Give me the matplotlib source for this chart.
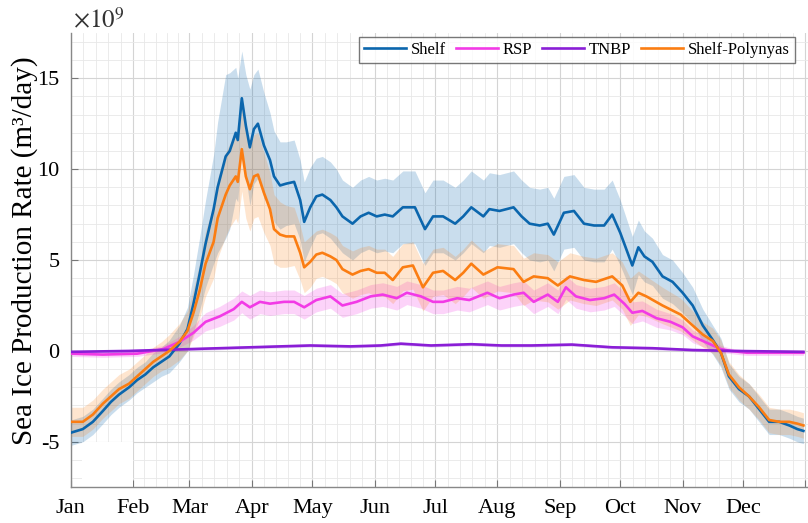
import numpy as np
import matplotlib
matplotlib.use("Agg")
import matplotlib.pyplot as plt
from matplotlib.patches import Rectangle

plt.rcParams['font.family'] = ['Liberation Serif', 'DejaVu Serif']
plt.rcParams['mathtext.fontset'] = 'stix'

# day-of-year samples, values in 1e9 m^3/day
shelf_day = [1, 4, 7, 12, 17, 21, 25, 30, 34, 38,
             42, 46, 50, 55, 59, 62, 65, 68, 72, 74,
             78, 80, 83, 84, 86, 88, 90, 92, 94, 97,
             100, 102, 105, 108, 112, 115, 117, 120, 123, 126,
             130, 133, 136, 141, 145, 149, 153, 157, 161, 166,
             172, 177, 181, 186, 192, 196, 200, 206, 209, 214,
             221, 225, 229, 234, 238, 241, 246, 251, 256, 261,
             266, 270, 274, 277, 280, 283, 286, 290, 295, 300,
             305, 310, 315, 320, 324, 328, 333, 338, 343, 348,
             353, 358, 362, 365]
shelf_mean = [-4.5, -4.4, -4.3, -3.9, -3.3, -2.8, -2.4, -2.0, -1.6, -1.3,
              -0.9, -0.6, -0.3, 0.4, 1.2, 2.6, 4.2, 5.9, 7.8, 9.0,
              10.7, 11.0, 12.0, 11.6, 13.9, 12.4, 11.2, 12.2, 12.5, 11.3,
              10.5, 9.6, 9.1, 9.2, 9.3, 8.3, 7.1, 7.9, 8.5, 8.6,
              8.3, 7.9, 7.4, 7.0, 7.4, 7.6, 7.4, 7.5, 7.4, 7.9,
              7.9, 6.7, 7.4, 7.4, 7.0, 7.4, 7.9, 7.4, 7.8, 7.7,
              7.9, 7.4, 7.0, 6.9, 7.0, 6.4, 7.6, 7.7, 7.0, 6.9,
              6.9, 7.5, 6.5, 5.6, 4.7, 5.7, 5.2, 4.9, 4.1, 3.8,
              3.2, 2.5, 1.4, 0.6, -0.1, -1.4, -2.1, -2.5, -3.2, -3.9,
              -3.9, -4.1, -4.3, -4.4]
shelf_std = [0.7, 0.7, 0.7, 0.7, 0.7, 0.7, 0.7, 0.7, 0.7, 0.7,
             0.8, 0.8, 0.9, 1.0, 1.2, 1.6, 2.0, 2.4, 3.0, 3.6,
             4.5, 4.3, 3.6, 3.4, 2.6, 2.8, 3.2, 3.0, 3.0, 2.9,
             2.6, 2.5, 2.4, 2.3, 2.3, 2.2, 2.2, 2.2, 2.1, 2.1,
             2.1, 2.1, 2.0, 2.0, 2.0, 2.0, 2.0, 2.0, 2.0, 2.0,
             2.0, 2.0, 2.0, 2.0, 2.0, 2.0, 2.0, 2.0, 2.0, 2.0,
             2.0, 2.0, 2.0, 2.0, 2.0, 2.0, 2.0, 2.0, 2.0, 2.0,
             2.0, 1.9, 1.8, 1.7, 1.6, 1.5, 1.4, 1.3, 1.2, 1.2,
             1.1, 1.0, 0.9, 0.8, 0.8, 0.7, 0.7, 0.7, 0.7, 0.7,
             0.7, 0.7, 0.7, 0.7]

poly_day = [1, 4, 7, 12, 17, 21, 25, 30, 34, 38,
            42, 46, 50, 55, 59, 62, 65, 68, 72, 74,
            78, 80, 83, 84, 86, 88, 90, 92, 94, 97,
            100, 102, 105, 108, 112, 115, 117, 120, 123, 126,
            130, 133, 136, 141, 145, 149, 153, 157, 161, 166,
            171, 176, 181, 186, 192, 196, 200, 206, 213, 221,
            226, 231, 238, 243, 249, 256, 262, 270, 275, 279,
            283, 287, 295, 304, 310, 315, 320, 324, 328, 333,
            338, 343, 348, 353, 358, 362, 365]
poly_mean = [-3.9, -3.9, -3.9, -3.5, -2.9, -2.5, -2.1, -1.8, -1.4, -1.0,
             -0.6, -0.3, 0.0, 0.5, 1.1, 2.1, 3.3, 4.8, 6.0, 7.3,
             8.6, 9.1, 9.6, 9.3, 11.1, 9.6, 8.9, 9.6, 9.7, 8.7,
             7.8, 6.7, 6.4, 6.3, 6.3, 5.4, 4.6, 4.9, 5.3, 5.4,
             5.2, 5.0, 4.5, 4.2, 4.4, 4.5, 4.3, 4.3, 3.9, 4.6,
             4.7, 3.5, 4.3, 4.4, 3.9, 4.3, 4.8, 4.2, 4.6, 4.5,
             3.8, 4.1, 4.0, 3.6, 4.1, 3.9, 3.8, 4.1, 3.6, 2.7,
             3.2, 3.0, 2.5, 2.0, 1.4, 0.9, 0.55, -0.1, -1.3, -2.0,
             -2.5, -3.1, -3.8, -3.9, -3.9, -4.0, -4.1]
poly_std = [0.8, 0.8, 0.8, 0.8, 0.8, 0.8, 0.8, 0.8, 0.8, 0.8,
            0.8, 0.8, 0.9, 1.0, 1.1, 1.3, 1.5, 1.8, 2.0, 2.2,
            2.3, 2.3, 2.3, 2.3, 2.3, 2.3, 2.3, 2.3, 2.3, 2.2,
            2.0, 1.9, 1.8, 1.7, 1.6, 1.5, 1.4, 1.4, 1.3, 1.3,
            1.3, 1.3, 1.3, 1.3, 1.3, 1.3, 1.3, 1.3, 1.3, 1.3,
            1.3, 1.3, 1.3, 1.3, 1.3, 1.3, 1.3, 1.3, 1.3, 1.3,
            1.3, 1.3, 1.3, 1.3, 1.3, 1.3, 1.3, 1.3, 1.3, 1.3,
            1.2, 1.1, 1.0, 0.9, 0.8, 0.7, 0.7, 0.7, 0.7, 0.7,
            0.7, 0.7, 0.7, 0.7, 0.7, 0.7, 0.7]

rsp_day = [1, 17, 34, 47, 55, 62, 68, 75, 82, 86,
           90, 95, 100, 107, 112, 117, 123, 130, 136, 143,
           150, 156, 163, 168, 175, 181, 186, 193, 199, 208,
           214, 221, 226, 231, 238, 243, 247, 252, 259, 266,
           271, 276, 280, 285, 292, 299, 305, 310, 317, 324,
           329, 337, 345, 365]
rsp_mean = [-0.15, -0.2, -0.15, 0.1, 0.5, 1.0, 1.6, 1.9, 2.3, 2.7,
            2.4, 2.7, 2.6, 2.7, 2.7, 2.4, 2.8, 3.0, 2.5, 2.7,
            3.0, 3.1, 2.9, 3.2, 3.0, 2.7, 2.7, 2.9, 2.8, 3.2,
            2.9, 3.1, 3.2, 2.7, 3.1, 2.7, 3.5, 3.0, 2.8, 2.9,
            3.1, 2.6, 2.1, 2.2, 1.8, 1.6, 1.3, 0.8, 0.45, 0.1,
            0.0, -0.1, -0.1, -0.1]
rsp_std = [0.15, 0.15, 0.15, 0.2, 0.3, 0.4, 0.5, 0.55, 0.6, 0.6,
           0.65, 0.65, 0.65, 0.65, 0.65, 0.65, 0.65, 0.65, 0.65, 0.65,
           0.65, 0.65, 0.65, 0.65, 0.65, 0.65, 0.65, 0.65, 0.65, 0.65,
           0.65, 0.65, 0.65, 0.65, 0.65, 0.65, 0.65, 0.65, 0.65, 0.65,
           0.65, 0.65, 0.6, 0.55, 0.5, 0.45, 0.4, 0.35, 0.3, 0.2,
           0.15, 0.15, 0.15, 0.15]

tnbp_day = [1, 30, 60, 90, 120, 140, 155, 165, 180, 200, 215, 230, 250, 270, 290, 310, 330, 365]
tnbp_mean = [-0.05, 0.0, 0.1, 0.2, 0.3, 0.25, 0.3, 0.4, 0.3, 0.37, 0.3, 0.3, 0.35, 0.2, 0.15, 0.05, 0.0, -0.05]
tnbp_std = 0.08

month_start = [1, 32, 60, 91, 121, 152, 182, 213, 244, 274, 305, 335, 366]
month_names = ['Jan', 'Feb', 'Mar', 'Apr', 'May', 'Jun', 'Jul', 'Aug', 'Sep', 'Oct', 'Nov', 'Dec', '']

c_shelf = '#0b66ad'
c_rsp = '#f23ae6'
c_tnbp = '#8a1ed6'
c_poly = '#fb7d12'

fig = plt.figure(figsize=(8.08, 5.23), dpi=100)
ax = fig.add_axes([0.0875, 0.0683, 0.9143, 0.869])

series = [
    (shelf_day, shelf_mean, shelf_std, c_shelf, 'Shelf', 0.22),
    (rsp_day, rsp_mean, rsp_std, c_rsp, 'RSP', 0.22),
    (tnbp_day, tnbp_mean, tnbp_std, c_tnbp, 'TNBP', 0.25),
    (poly_day, poly_mean, poly_std, c_poly, 'Shelf-Polynyas', 0.2),
]
for day, mean, std, col, name, a in series:
    day = np.array(day)
    mean = np.array(mean)
    std = np.broadcast_to(np.array(std, dtype=float), mean.shape)
    ax.fill_between(day, mean - std, mean + std, color=col, alpha=a, lw=0, zorder=2)
for day, mean, std, col, name, a in series:
    ax.plot(day, mean, color=col, lw=1.9, label=name, zorder=3)

# white box covering part of the lower left corner
ax.add_patch(Rectangle((6.7, -7.5), 25.3, 2.47, facecolor='white', edgecolor='none', zorder=1.5))

ax.set_xlim(1, 368)
ax.set_ylim(-7.5, 17.5)

ax.set_xticks(month_start)
ax.set_xticklabels(month_names, fontsize=16)
minor = []
for a0, a1 in zip(month_start[:-1], month_start[1:]):
    minor.extend(np.linspace(a0, a1, 6)[1:-1])
ax.set_xticks(minor, minor=True)
ax.set_yticks([-5, 0, 5, 10, 15])
ax.set_yticklabels(['-5', '0', '5', '10', '15'], fontsize=16)
ax.set_yticks(np.arange(-7, 18, 1), minor=True)

ax.set_axisbelow(True)
ax.grid(True, which='major', color='#d4d4d4', lw=0.8)
ax.grid(True, which='minor', color='#e8e8e8', lw=0.6)
ax.tick_params(which='major', direction='in', length=5, color='#777777', pad=8)
ax.tick_params(which='minor', length=0)
ax.tick_params(axis='x', pad=8.5)

for s in ['top', 'right']:
    ax.spines[s].set_visible(False)
for s in ['left', 'bottom']:
    ax.spines[s].set_color('#888888')
    ax.spines[s].set_linewidth(1.0)

ax.set_ylabel('Sea Ice Production Rate (m³/day)', fontsize=21)
ax.yaxis.set_label_coords(-0.062, 0.52)
ax.yaxis.label.set_verticalalignment('center')

ax.text(0.003, 1.0, r'$\times10^{9}$', transform=ax.transAxes, fontsize=18,
        ha='left', va='bottom', color='#333333')

leg = ax.legend(ncol=4, loc='upper right', bbox_to_anchor=(795 / 808, 1 - 37 / 523),
                bbox_transform=fig.transFigure, fontsize=12, frameon=True, fancybox=False,
                handlelength=2.5, columnspacing=0.6, handletextpad=0.3,
                borderpad=0.3, borderaxespad=0)
leg.get_frame().set_edgecolor('#555555')
leg.get_frame().set_linewidth(1.0)

fig.savefig('out.png', dpi=100)
